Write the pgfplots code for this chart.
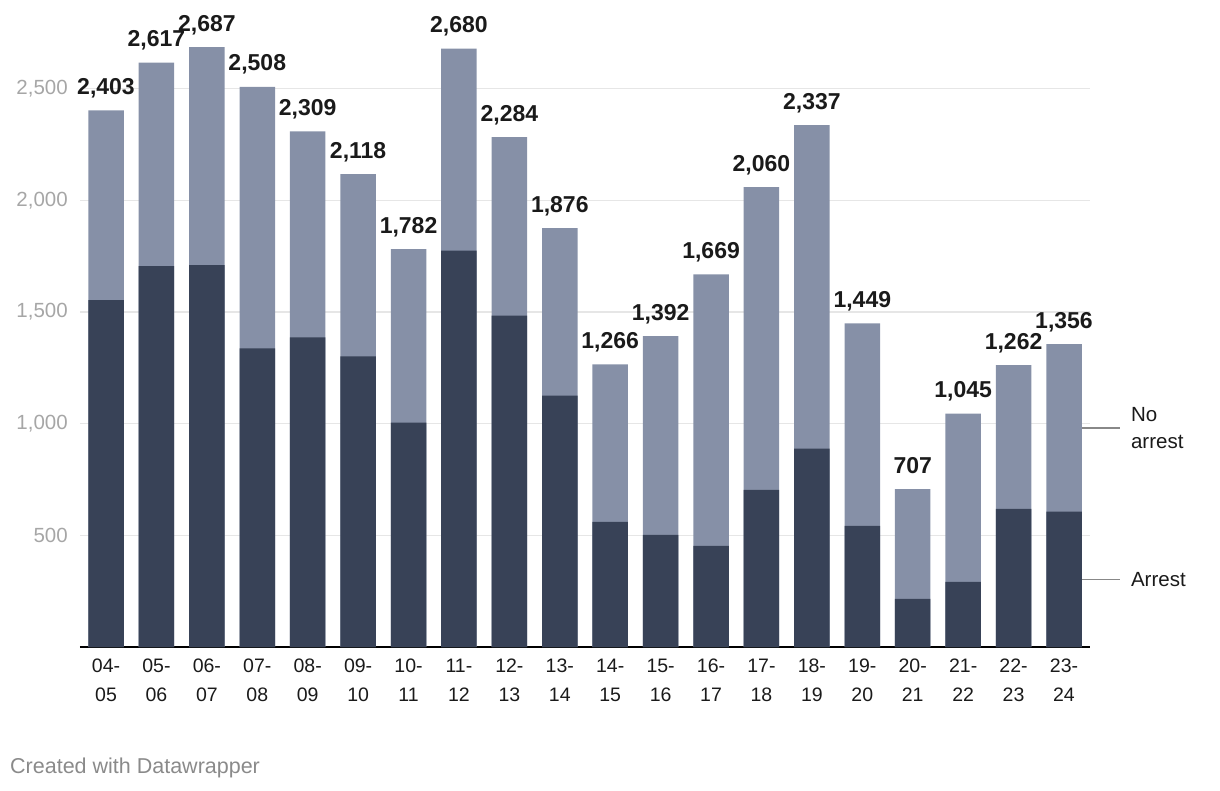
\documentclass[border=0pt]{standalone}
\usepackage{pgfplots}
\usepackage{pgfplotstable}
\pgfplotsset{compat=1.18}
\usepackage{fontspec}
\setmainfont{Liberation Sans}
\definecolor{arrestc}{HTML}{384257}
\definecolor{noarrc}{HTML}{8690A7}
\definecolor{gridc}{HTML}{E6E6E6}
\definecolor{tickc}{HTML}{A6A6A6}
\definecolor{txtc}{HTML}{1A1A1A}
\definecolor{leadc}{HTML}{888888}
\definecolor{credc}{HTML}{8A8A8A}
\pgfplotstableread{
x arrest total
0 1553 2403
1 1706 2617
2 1710 2687
3 1337 2508
4 1387 2309
5 1302 2118
6 1005 1782
7 1775 2680
8 1484 2284
9 1126 1876
10 560 1266
11 502 1392
12 453 1669
13 704 2060
14 888 2337
15 543 1449
16 215 707
17 292 1045
18 619 1262
19 606 1356
}\datatable
\begin{document}
\begin{tikzpicture}
\begin{axis}[
  at={(0,0)}, anchor=south west,
  scale only axis,
  width=1010pt, height=625.2pt,
  xmin=-0.516, xmax=19.516,
  ymin=0, ymax=2800,
  ybar, bar width=35.5pt, bar shift=0pt,
  axis x line*=bottom, axis y line*=left,
  y axis line style={draw=none},
  x axis line style={line width=1.5pt, black},
  xtick={0,...,19},
  xticklabels={{04-\\05},{05-\\06},{06-\\07},{07-\\08},{08-\\09},{09-\\10},{10-\\11},{11-\\12},{12-\\13},{13-\\14},{14-\\15},{15-\\16},{16-\\17},{17-\\18},{18-\\19},{19-\\20},{20-\\21},{21-\\22},{22-\\23},{23-\\24}},
  xticklabel style={align=center, font=\fontsize{19.5}{29}\selectfont, text=txtc, anchor=north, inner sep=0pt, yshift=-12pt},
  major tick length=0pt,
  ytick={500,1000,1500,2000,2500},
  ymajorgrids, grid style={gridc, line width=1.2pt},
  yticklabel style={font=\fontsize{20.5}{24}\selectfont, text=tickc, anchor=east, inner sep=0pt, xshift=-12pt},
  yticklabel={\pgfmathprintnumber[assume math mode=true,1000 sep={,}]{\tick}},
  clip=false,
]
\addplot[fill=noarrc, draw=none,
  nodes near coords={\pgfmathprintnumber[assume math mode=true,1000 sep={,}]{\pgfplotspointmeta}},
  point meta=explicit,
  nodes near coords style={anchor=base, inner sep=0pt, yshift=16pt, text=txtc,
    font=\bfseries\fontsize{23}{26}\selectfont},
  ] table[x=x, y=total, meta=total] {\datatable};
\addplot[fill=arrestc, draw=none] table[x=x, y=arrest] {\datatable};
\draw[leadc, line width=1.2pt] (axis cs:19.36,981) -- (axis cs:20.12,981)
  node[right, inner sep=0pt, xshift=10pt, align=left, text=txtc, font=\fontsize{20.5}{27}\selectfont] {No\\arrest};
\draw[leadc, line width=1.2pt] (axis cs:19.36,303) -- (axis cs:20.12,303)
  node[right, inner sep=0pt, xshift=10pt, align=left, text=txtc, font=\fontsize{20.5}{27}\selectfont] {Arrest};
\end{axis}
\node[anchor=base west, inner sep=0pt, text=credc, font=\fontsize{21.5}{24}\selectfont] at (-70pt,-126pt) {Created with Datawrapper};
\useasboundingbox (-80pt,-143pt) rectangle (1140pt,647pt);
\end{tikzpicture}
\end{document}
